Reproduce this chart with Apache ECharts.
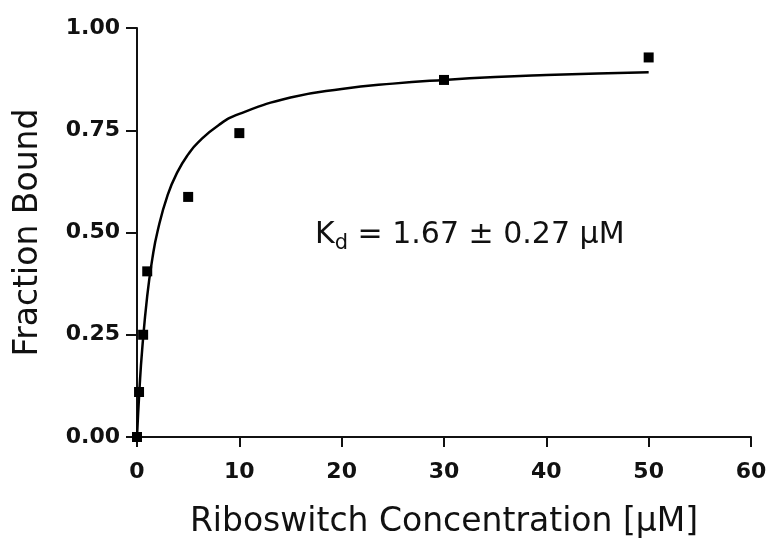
<!DOCTYPE html>
<html><head><meta charset="utf-8">
<script src="https://cdn.jsdelivr.net/npm/echarts@6/dist/echarts.min.js"></script>
<style>html,body{margin:0;padding:0;background:#fff}#c{width:771px;height:542px}</style>
</head><body><div id="c"></div>
<script>
const pointX = [0, 0.2, 0.6, 1, 5, 10, 30, 50];
const pointY = [0, 0.11, 0.25, 0.405, 0.587, 0.743, 0.873, 0.928];
const fitX = [0, 0.25, 0.5, 1, 1.5, 2, 3, 4, 5, 6, 8, 10, 15, 20, 25, 30, 35, 40, 45, 50];
const fitY = [0, 0.12, 0.212, 0.345, 0.436, 0.502, 0.592, 0.65, 0.691, 0.721, 0.763, 0.79, 0.83, 0.851, 0.864, 0.873, 0.88, 0.885, 0.889, 0.892];
const xTicks = [0, 10, 20, 30, 40, 50, 60];
const yTicks = [0, 0.25, 0.5, 0.75, 1.0];
const annotation = 'K{sub|d} = 1.67 ± 0.27 µM';

const chart = echarts.init(document.getElementById('c'));
const font = 'DejaVu Sans, sans-serif';
chart.setOption({
  animation: false,
  grid: {left: 137, right: 20, top: 28, bottom: 105, containLabel: false, outerBoundsMode: 'none'},
  xAxis: {
    type: 'value', min: xTicks[0], max: xTicks[xTicks.length-1], interval: 10,
    name: 'Riboswitch Concentration [µM]', nameLocation: 'middle', nameGap: 69,
    nameTextStyle: {fontFamily: font, fontSize: 33, color: '#111'},
    axisLine: {lineStyle: {color: '#111', width: 2}},
    axisTick: {show: true, length: 10, lineStyle: {color: '#111', width: 2}},
    axisLabel: {fontFamily: font, fontSize: 22, fontWeight: 'bold', color: '#111', margin: 24},
    splitLine: {show: false}
  },
  yAxis: {
    type: 'value', min: yTicks[0], max: yTicks[yTicks.length-1], interval: 0.25,
    name: 'Fraction Bound', nameLocation: 'middle', nameGap: 92,
    nameTextStyle: {fontFamily: font, fontSize: 33, color: '#111'},
    axisLine: {show: true, lineStyle: {color: '#111', width: 2}},
    axisTick: {show: true, length: 11, lineStyle: {color: '#111', width: 2}},
    axisLabel: {fontFamily: font, fontSize: 22, fontWeight: 'bold', color: '#111', margin: 17, formatter: v => v.toFixed(2)},
    splitLine: {show: false}
  },
  series: [
    {type: 'line', data: fitX.map((x, i) => [x, fitY[i]]), smooth: true, showSymbol: false,
     lineStyle: {color: '#000', width: 2.5}, z: 2},
    {type: 'scatter', data: pointX.map((x, i) => [x, pointY[i]]), symbol: 'rect', symbolSize: 10,
     itemStyle: {color: '#000', opacity: 1}, z: 3}
  ],
  graphic: [{
    type: 'text', left: 315, top: 220,
    style: {
      text: annotation, fontFamily: font, fontSize: 30, fill: '#111',
      rich: {sub: {fontFamily: font, fontSize: 21, fill: '#111', padding: [18, 0, 0, 0]}}
    }
  }]
});
</script></body></html>
